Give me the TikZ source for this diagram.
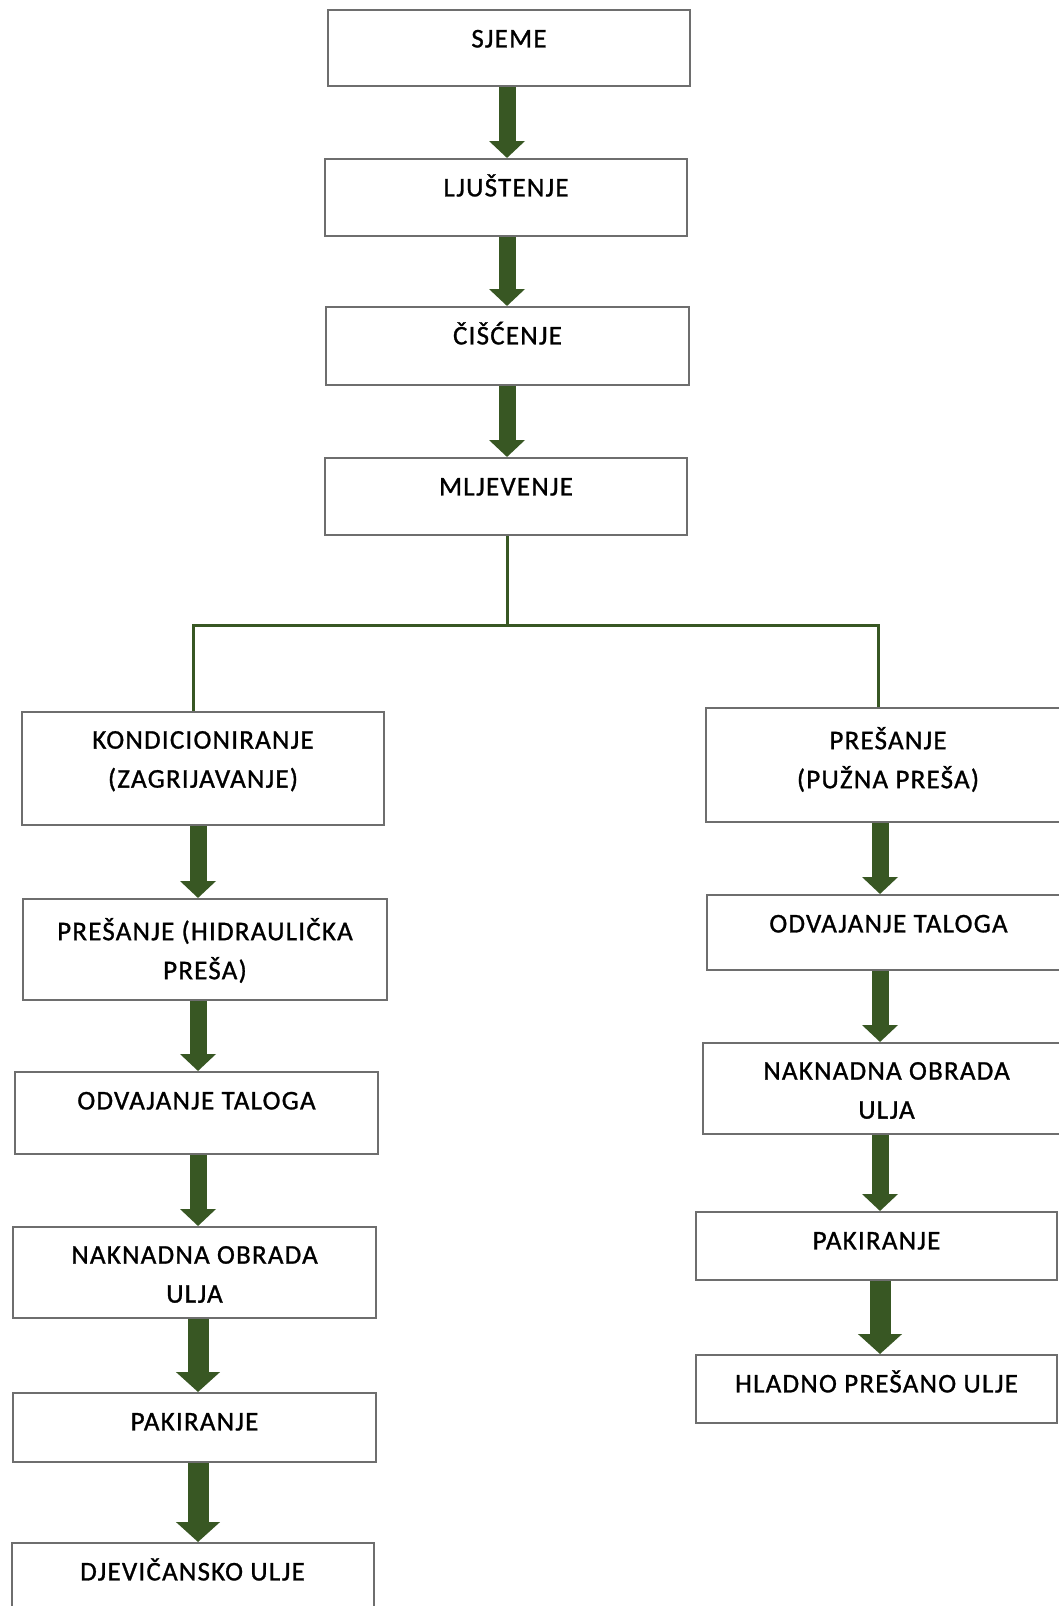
\documentclass[tikz,border=0pt]{standalone}
\usepackage{fontspec}
\newfontfamily\boxfont[LetterSpace=4.5,FakeBold=1]{Carlito}
\usepackage{tikz}
\usetikzlibrary{arrows.meta}
\definecolor{flowgreen}{RGB}{56,87,35}
\definecolor{boxline}{RGB}{110,110,110}

\tikzset{
  stepbox/.style={draw=boxline, line width=1pt, fill=white, inner sep=0pt},
  steptext/.style={anchor=north, inner sep=0pt, yshift=-5.35pt, align=center,
    font={\boxfont\fontsize{13.5pt}{19.5pt}\selectfont}, execute at begin node=\strut},
  steptexttwo/.style={steptext, yshift=-4.5pt},
  flow/.style={draw=flowgreen, line width=8.5pt, -{Triangle[width=17.5pt,length=8.5pt]}},
  bigflow/.style={draw=flowgreen, line width=10.5pt, -{Triangle[width=21.5pt,length=10pt]}},
  branch/.style={draw=flowgreen, line width=1.5pt}
}

\begin{document}
\begin{tikzpicture}[x=0.5pt, y=-0.5pt]
            \clip (0,0) rectangle (1059,1606);
            \fill[white] (0,0) rectangle (1059,1606);
            % middle column
            \node[stepbox, minimum width=181pt, minimum height=38pt, label={[steptext]north:{SJEME}}] (sjeme) at (509,48){};
            \node[stepbox, minimum width=181pt, minimum height=38.5pt, label={[steptext]north:{LJUŠTENJE}}] (ljus) at (506,197.5){};
            \node[stepbox, minimum width=181.5pt, minimum height=39pt, label={[steptext]north:{ČIŠĆENJE}}] (cisc) at (507.5,346){};
            \node[stepbox, minimum width=181pt, minimum height=38.5pt, label={[steptext]north:{MLJEVENJE}}] (mlj) at (506,496.5){};
            % left column
            \node[stepbox, minimum width=181pt, minimum height=56.5pt, label={[steptexttwo]north:{KONDICIONIRANJE\\(ZAGRIJAVANJE)}}] (kond) at (203,768.5){};
            \node[stepbox, minimum width=182pt, minimum height=50.5pt, label={[steptexttwo]north:{PREŠANJE (HIDRAULIČKA\\PREŠA)}}] (hidr) at (205,949.5){};
            \node[stepbox, minimum width=181.5pt, minimum height=41pt, label={[steptext]north:{ODVAJANJE TALOGA}}] (odvL) at (196.5,1113){};
            \node[stepbox, minimum width=181.5pt, minimum height=45.5pt, label={[steptexttwo]north:{NAKNADNA OBRADA\\ULJA}}] (naknL) at (194.5,1272.5){};
            \node[stepbox, minimum width=181.5pt, minimum height=34.5pt, label={[steptext]north:{PAKIRANJE}}] (pakL) at (194.5,1427.5){};
            \node[stepbox, minimum width=181pt, minimum height=40pt, label={[steptext]north:{DJEVIČANSKO ULJE}}] (djev) at (192.5,1583){};
            % right column
            \node[stepbox, minimum width=182pt, minimum height=57pt, label={[steptexttwo]north:{PREŠANJE\\(PUŽNA PREŠA)}}] (puz) at (888,765){};
            \node[stepbox, minimum width=181.5pt, minimum height=37.5pt, label={[steptext]north:{ODVAJANJE TALOGA}}] (odvR) at (888.5,932.5){};
            \node[stepbox, minimum width=183.5pt, minimum height=45.5pt, label={[steptexttwo]north:{NAKNADNA OBRADA\\ULJA}}] (naknR) at (886.5,1088.5){};
            \node[stepbox, minimum width=180.5pt, minimum height=34pt, label={[steptext]north:{PAKIRANJE}}] (pakR) at (876.5,1246){};
            \node[stepbox, minimum width=180.5pt, minimum height=34pt, label={[steptext]north:{HLADNO PREŠANO ULJE}}] (hlad) at (876.5,1389){};
            % fork
            \coordinate (fork) at (507,625);
            \coordinate (lsplit) at (193,625);
            \coordinate (rsplit) at (878,625);
            \coordinate (lcol) at (198,0);
            \coordinate (rcol) at (880,0);
            \draw[branch] (mlj.south -| fork) -- (fork);
            \draw[branch] (kond.north -| lsplit) -- (lsplit) -- (rsplit) -- (puz.north -| rsplit);
            % arrows
            \draw[flow] (sjeme.south -| fork) -- (ljus.north -| fork);
            \draw[flow] (ljus.south -| fork) -- (cisc.north -| fork);
            \draw[flow] (cisc.south -| fork) -- (mlj.north -| fork);
            \draw[flow] (kond.south -| lcol) -- (hidr.north -| lcol);
            \draw[flow] (hidr.south -| lcol) -- (odvL.north -| lcol);
            \draw[flow] (odvL.south -| lcol) -- (naknL.north -| lcol);
            \draw[bigflow] (naknL.south -| lcol) -- (pakL.north -| lcol);
            \draw[bigflow] (pakL.south -| lcol) -- (djev.north -| lcol);
            \draw[flow] (puz.south -| rcol) -- (odvR.north -| rcol);
            \draw[flow] (odvR.south -| rcol) -- (naknR.north -| rcol);
            \draw[flow] (naknR.south -| rcol) -- (pakR.north -| rcol);
            \draw[bigflow] (pakR.south -| rcol) -- (hlad.north -| rcol);
        \end{tikzpicture}
\end{document}
